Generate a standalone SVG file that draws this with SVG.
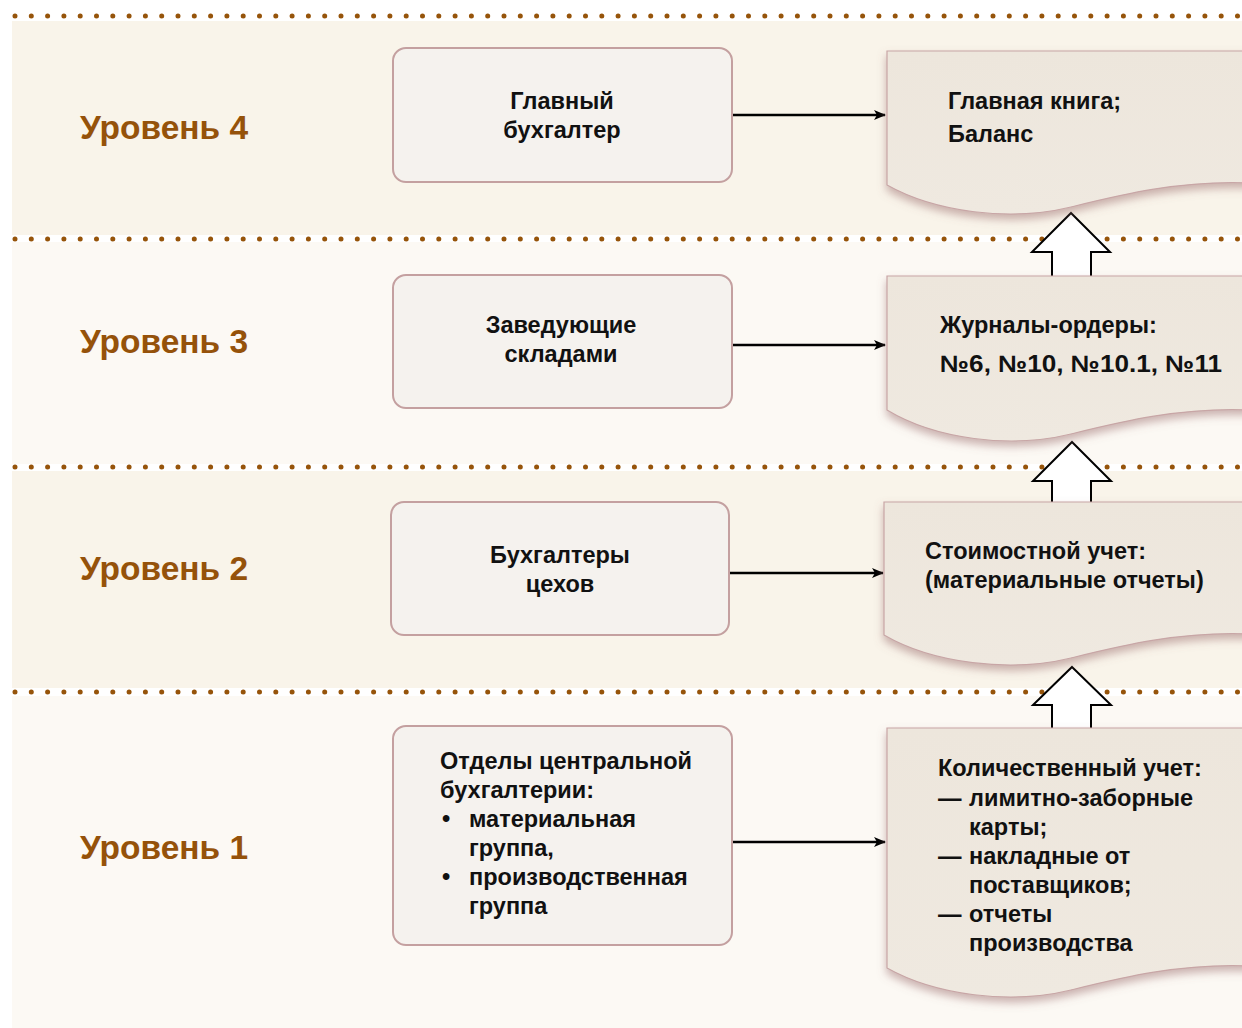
<svg xmlns="http://www.w3.org/2000/svg" width="1242" height="1028" viewBox="0 0 1242 1028">
<defs>
<style>
.band1{fill:#f9f4ea}
.band2{fill:#fcf9f4}
.dots{stroke:#96540a;stroke-width:5;stroke-linecap:round;stroke-dasharray:0 16.3;fill:none}
.lvl{font-family:"Liberation Sans",Arial,sans-serif;font-weight:bold;font-size:33.5px;fill:#95520a}
.box{fill:#f5f2ee;stroke:#c4a0a0;stroke-width:2}
.doc{fill:url(#docg);stroke:#c8a6a6;stroke-width:1.2;filter:url(#sh)}
.t{font-family:"Liberation Sans",Arial,sans-serif;font-weight:bold;font-size:23.5px;fill:#111}
.c{text-anchor:middle}
.conn{stroke:#000;stroke-width:2.5;fill:none;marker-end:url(#ah)}
.blk{fill:#fff;stroke:#000;stroke-width:2;stroke-linejoin:miter}
</style>
<linearGradient id="docg" x1="0" y1="0" x2="0" y2="1">
<stop offset="0" stop-color="#ede6dc"/>
<stop offset="1" stop-color="#efe9e0"/>
</linearGradient>
<filter id="sh" x="-10%" y="-10%" width="120%" height="130%">
<feDropShadow dx="0" dy="5" stdDeviation="4" flood-color="#9a6a6a" flood-opacity="0.5"/>
</filter>
<marker id="ah" markerWidth="12" markerHeight="10" refX="11" refY="5" orient="auto" markerUnits="userSpaceOnUse" viewBox="0 0 12 10">
<path d="M0,0 L12,5 L0,10 L3,5 Z" fill="#000"/>
</marker>
</defs>
<rect width="1242" height="1028" fill="#fff"/>
<g id="bands">
<rect class="band1" x="12" y="21" width="1230" height="214"/>
<rect class="band2" x="12" y="242" width="1230" height="222"/>
<rect class="band1" x="12" y="471" width="1230" height="217"/>
<rect class="band2" x="12" y="696" width="1230" height="332"/>
<line class="dots" x1="15" y1="16" x2="1242" y2="16"/>
<line class="dots" x1="15" y1="239" x2="1242" y2="239"/>
<line class="dots" x1="15" y1="467" x2="1242" y2="467"/>
<line class="dots" x1="15" y1="692" x2="1242" y2="692"/>
</g>
<g id="labels">
<text class="lvl" x="80" y="139">Уровень 4</text>
<text class="lvl" x="80" y="353">Уровень 3</text>
<text class="lvl" x="80" y="580">Уровень 2</text>
<text class="lvl" x="80" y="859">Уровень 1</text>
</g>
<g id="connectors">
<line class="conn" x1="732" y1="115" x2="885" y2="115"/>
<line class="conn" x1="732" y1="345" x2="885" y2="345"/>
<line class="conn" x1="729" y1="573" x2="883" y2="573"/>
<line class="conn" x1="732" y1="842" x2="885" y2="842"/>
<path class="blk" d="M1071,213 L1110,252 L1091,252 L1091,277 L1052,277 L1052,252 L1032,252 Z"/>
<path class="blk" d="M1072,442 L1111,481 L1091,481 L1091,504 L1052,504 L1052,481 L1033,481 Z"/>
<path class="blk" d="M1072,667 L1111,705 L1091,705 L1091,730 L1052,730 L1052,705 L1033,705 Z"/>
</g>
<g id="n4a"><rect class="box" x="393" y="48" width="339" height="134" rx="13"/>
<text class="t c" x="562" y="109">Главный</text><text class="t c" x="562" y="138">бухгалтер</text></g>
<g id="n3a"><rect class="box" x="393" y="275" width="339" height="133" rx="13"/>
<text class="t c" x="561" y="333">Заведующие</text><text class="t c" x="561" y="362">складами</text></g>
<g id="n2a"><rect class="box" x="391" y="502" width="338" height="133" rx="13"/>
<text class="t c" x="560" y="563">Бухгалтеры</text><text class="t c" x="560" y="592">цехов</text></g>
<g id="n1a"><rect class="box" x="393" y="726" width="339" height="219" rx="13"/>
<text class="t" x="440" y="769">Отделы центральной</text>
<text class="t" x="440" y="798">бухгалтерии:</text>
<text class="t" x="442" y="827">•</text><text class="t" x="469" y="827">материальная</text>
<text class="t" x="469" y="856">группа,</text>
<text class="t" x="442" y="885">•</text><text class="t" x="469" y="885">производственная</text>
<text class="t" x="469" y="914">группа</text></g>
<g id="n4b"><path class="doc" d="M887,51 L1250,51 L1250,183 C1180,180 1120,195 1071,207 C1010,222 935,212 887,185 Z"/>
<text class="t" x="948" y="109">Главная книга;</text><text class="t" x="948" y="142">Баланс</text></g>
<g id="n3b"><path class="doc" d="M887,276 L1250,276 L1250,410 C1180,407 1120,422 1071,434 C1010,449 935,439 887,410 Z"/>
<text class="t" x="940" y="333">Журналы-ордеры:</text><text class="t" x="940" y="372" textLength="282" lengthAdjust="spacingAndGlyphs">№6, №10, №10.1, №11</text></g>
<g id="n2b"><path class="doc" d="M884,502 L1250,502 L1250,634 C1180,631 1120,646 1071,658 C1010,673 932,663 884,635 Z"/>
<text class="t" x="925" y="559">Стоимостной учет:</text><text class="t" x="925" y="588">(материальные отчеты)</text></g>
<g id="n1b"><path class="doc" d="M887,728 L1250,728 L1250,966 C1180,963 1120,978 1071,990 C1010,1005 935,995 887,968 Z"/>
<text class="t" x="938" y="776">Количественный учет:</text>
<text class="t" x="938" y="806">—</text><text class="t" x="969" y="806">лимитно-заборные</text>
<text class="t" x="969" y="835">карты;</text>
<text class="t" x="938" y="864">—</text><text class="t" x="969" y="864">накладные от</text>
<text class="t" x="969" y="893">поставщиков;</text>
<text class="t" x="938" y="922">—</text><text class="t" x="969" y="922">отчеты</text>
<text class="t" x="969" y="951">производства</text></g>
</svg>
